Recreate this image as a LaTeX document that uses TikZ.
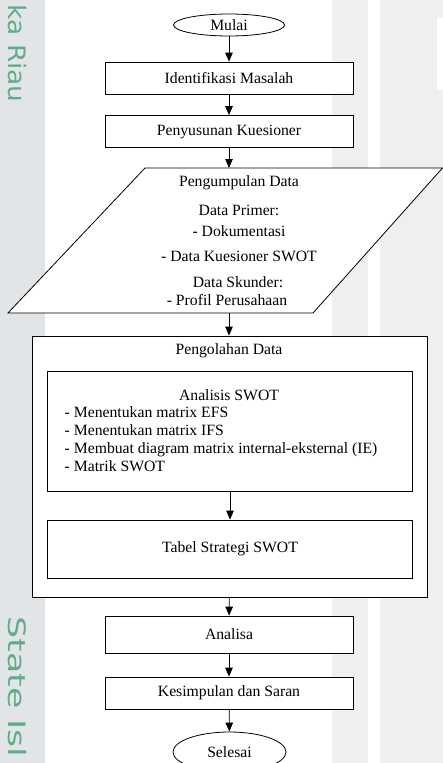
\documentclass[tikz,border=0pt]{standalone}
\usepackage{fontspec}
\setmainfont{Liberation Serif}
\newfontfamily\wmfont{DejaVu Sans}
\usetikzlibrary{arrows.meta, positioning, shapes.geometric, calc}

\definecolor{wmgreen}{RGB}{96,172,138}
\definecolor{wmgray}{RGB}{226,229,231}
\definecolor{bggray}{RGB}{238,240,239}

\begin{document}
\begin{tikzpicture}[x=1pt, y=-1pt, line width=0.8pt, >={Triangle[length=9pt,width=7.5pt]},
    every node/.style={font=\fontsize{15.7}{18}\selectfont},
    box/.style={rectangle, draw, fill=white, minimum width=248pt, minimum height=32pt, inner sep=0pt},
    terminal/.style={ellipse, draw, fill=white, minimum width=111pt, minimum height=22pt, inner sep=0pt},
    wmtext/.style={rotate=-90, text=wmgreen, inner sep=0pt, font=\wmfont\fontsize{24}{24}\selectfont}]
    \useasboundingbox (0,0) rectangle (443,763);

    % faded background
    \fill[wmgray] (0,0) rectangle (45,763);
    \fill[bggray] (332,0) rectangle (368,763);
    \fill[bggray] (380,0) rectangle (443,763);
    \fill[white] (437,18) rectangle (443,90);
    \node[wmtext, anchor=east] (wmriau) at (17,103) {\scalebox{1.1}[1]{ka Riau}};
    \node[wmtext, anchor=west] (wmstate) at (17,616) {\scalebox{1.45}[1]{State Isl}};

    \node[terminal] (mulai) at (229,25) {Mulai};
    \node[box] (ident) at (229,78) {Identifikasi Masalah};
    \node[box] (susun) at (229,131.5) {Penyusunan Kuesioner};

    % input data
    \coordinate (ptop) at (229,168);
    \coordinate (pbot) at (229,313);
    \draw[fill=white] (145,168) -- (442.5,168) -- (313,313) -- (8,313) -- cycle;
    \node (kumpul) at (239,183) {Pengumpulan Data};
    \node (primer) at (239,210) {Data Primer:};
    \node (doku) at (239,231) {- Dokumentasi};
    \node (kues) at (239,256) {- Data Kuesioner SWOT};
    \node (skunder) at (238,282) {Data Skunder:};
    \node (profil) at (227,300) {- Profil Perusahaan};

    % processing
    \node[draw, fill=white, minimum width=395pt, minimum height=261pt] (olah) at (230,466.5) {};
    \node (olahjudul) at (229,351) {Pengolahan Data};
    \node[draw, fill=white, minimum width=365pt, minimum height=120pt] (swot) at (230,431) {};
    \node (swotjudul) at (229,395) {Analisis SWOT};
    \node[align=left, anchor=west] (swotisi) at (61,439) {- Menentukan matrix EFS\\- Menentukan matrix IFS\\- Membuat diagram matrix internal-eksternal (IE)\\- Matrik SWOT};
    \node[draw, fill=white, minimum width=365pt, minimum height=58pt] (tabel) at (230,549) {Tabel Strategi SWOT};

    \node[box, minimum height=37pt] (analisa) at (229,634.5) {Analisa};
    \node[box] (simpul) at (229,693) {Kesimpulan dan Saran};
    \node[terminal, minimum width=113pt, minimum height=40pt] (selesai) at (229.5,752) {Selesai};

    \draw[->] (mulai) -- (ident);
    \draw[->] (ident) -- (susun);
    \draw[->] (susun) -- (ptop);
    \draw[->] (pbot) -- (pbot |- olah.north);
    \draw[->] (swot) -- (tabel);
    \draw[->] (olah) -- (analisa);
    \draw[->] (analisa) -- (simpul);
    \draw[->] (simpul) -- (selesai);
\end{tikzpicture}
\end{document}
